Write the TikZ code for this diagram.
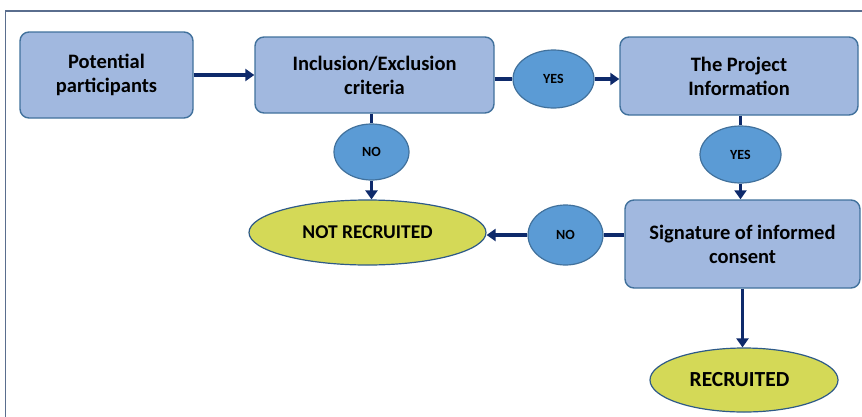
\documentclass[tikz,border=0pt]{standalone}
\usepackage{fontspec}
\setmainfont{Carlito}
\usetikzlibrary{shapes.geometric,arrows.meta}
\definecolor{boxfill}{HTML}{A1B8DF}
\definecolor{boxline}{HTML}{41719C}
\definecolor{decfill}{HTML}{5B9BD5}
\definecolor{endfill}{HTML}{D4D957}
\definecolor{endline}{HTML}{2E5A88}
\definecolor{flow}{HTML}{0E2A6B}
\definecolor{frame}{HTML}{5A6E8E}
\tikzset{
  stepbox/.style={draw=boxline, line width=1.4pt, fill=boxfill, rounded corners=9pt,
    align=center, font=\bfseries\fontsize{20.5}{24}\selectfont, inner sep=0pt},
  choice/.style={ellipse, draw=boxline, line width=1.2pt, fill=decfill,
    font=\bfseries\fontsize{14}{16}\selectfont, inner sep=0pt},
  outcome/.style={ellipse, draw=endline, line width=1.2pt, fill=endfill,
    font=\bfseries\fontsize{19.5}{22}\selectfont, inner sep=0pt},
  link/.style={draw=flow, line width=3.2pt},
  flowarrow/.style={link, -{Triangle[length=9pt,width=12pt]}}
}
\begin{document}
\begin{tikzpicture}[x=1pt,y=-1pt]
\useasboundingbox (0,0) rectangle (862,416);
% outer frame, running past the right and bottom edges
\draw[frame, line width=1.6pt] (5.5,430) -- (5.5,11) -- (880,11);

% process boxes
\node[stepbox, minimum width=173pt, minimum height=86pt] (pot) at (106.5,75) {Potential\\participants};
\node[stepbox, minimum width=239pt, minimum height=76pt] (incl) at (374.5,75) {Inclusion/Exclusion\\criteria};
\node[stepbox, minimum width=238pt, minimum height=78pt] (info) at (739,76) {The Project\\Information};
\node[stepbox, minimum width=235pt, minimum height=88pt] (sign) at (742.5,244) {Signature of informed\\consent};

% decisions
\node[choice, minimum width=81pt, minimum height=58pt] (yesA) at (553.5,79) {YES};
\node[choice, minimum width=81pt, minimum height=57pt] (yesB) at (740.5,154.5) {YES};
\node[choice, minimum width=75pt, minimum height=56pt] (noA) at (371.5,152) {NO};
\node[choice, minimum width=75pt, minimum height=60pt] (noB) at (565.5,235) {NO};

% outcomes
\node[outcome, minimum width=237pt, minimum height=65pt] (notrec) at (367.5,232.5) {NOT RECRUITED};
\node[outcome, minimum width=188pt, minimum height=64pt, font=\bfseries\fontsize{21.5}{24}\selectfont] (rec) at (744,380) {\hspace*{-9pt}RECRUITED};

% connectors
\draw[flowarrow] (pot.east) -- (incl.west);
\draw[link] (incl.east |- yesA.west) -- (yesA.west);
\draw[flowarrow] (yesA.east) -- (yesA.east -| info.west);
\draw[link] (incl.south -| noA.north) -- (noA.north);
\draw[flowarrow] (noA.south) -- (noA.south |- notrec.north);
\draw[link] (info.south -| yesB.north) -- (yesB.north);
\draw[flowarrow] (yesB.south) -- (yesB.south |- sign.north);
\draw[link] (sign.west |- noB.east) -- (noB.east);
\draw[flowarrow] (noB.west) -- (noB.west -| notrec.east);
\draw[flowarrow] (sign.south) -- (sign.south |- rec.north);
\end{tikzpicture}
\end{document}
